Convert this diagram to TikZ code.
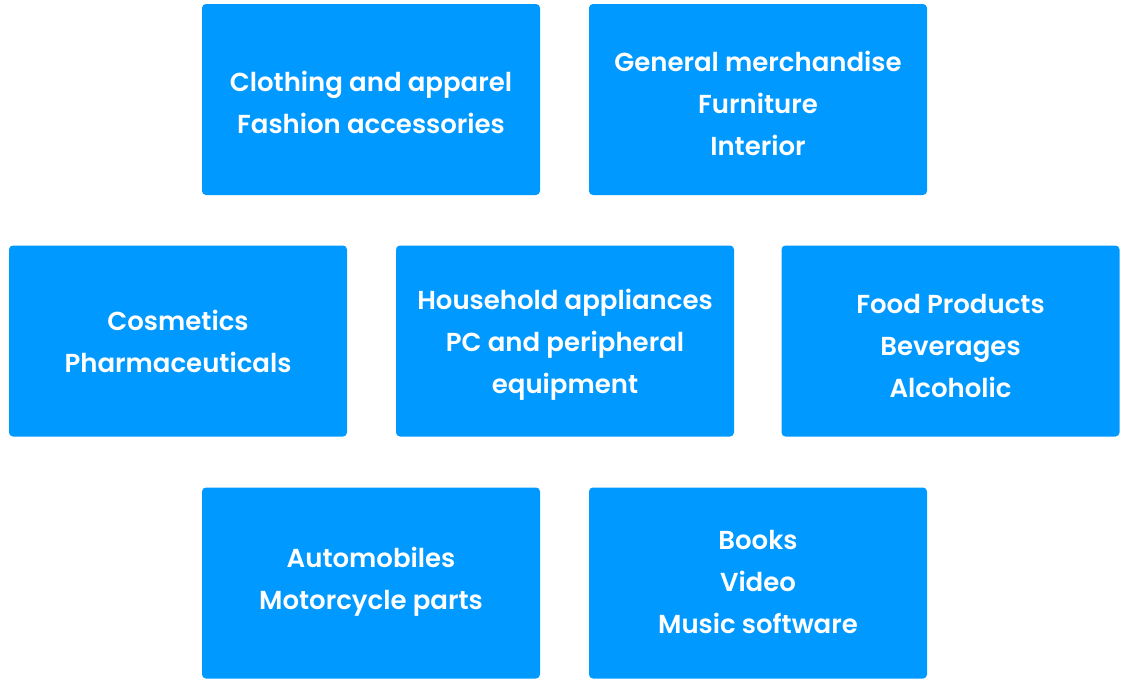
\documentclass[tikz,border=0pt]{standalone}
\usepackage{fontspec}
\setmainfont{Poppins}[UprightFont=* SemiBold]
\definecolor{tileblue}{HTML}{0099FF}
\begin{document}
\begin{tikzpicture}[x=1pt,y=-1pt,
  tile/.style 2 args={fill=tileblue, draw=none, rounded corners=4pt,
    minimum width=338pt, minimum height=191pt, inner sep=0pt,
    label={[tiletext,yshift=#2]center:#1}},
  tiletext/.style={text=white, align=center,
    font=\fontsize{26}{42}\selectfont}]
\useasboundingbox (0,0) rectangle (1124,681);
\node[tile={Clothing and apparel\\Fashion accessories}{-3pt}] (clothing) at (371,99.5) {};
\node[tile={General merchandise\\Furniture\\Interior}{-4pt}] (general) at (758,99.5) {};
\node[tile={Cosmetics\\Pharmaceuticals}{-0.5pt}] (cosmetics) at (178,341) {};
\node[tile={Household appliances\\PC and peripheral\\equipment}{-3.5pt}] (household) at (565,341) {};
\node[tile={Food Products\\Beverages\\Alcoholic}{-4.5pt}] (food) at (950.5,341) {};
\node[tile={Automobiles\\Motorcycle parts}{1.5pt}] (auto) at (371,583) {};
\node[tile={Books\\Video\\Music software}{1.5pt}] (books) at (758,583) {};
\end{tikzpicture}
\end{document}
